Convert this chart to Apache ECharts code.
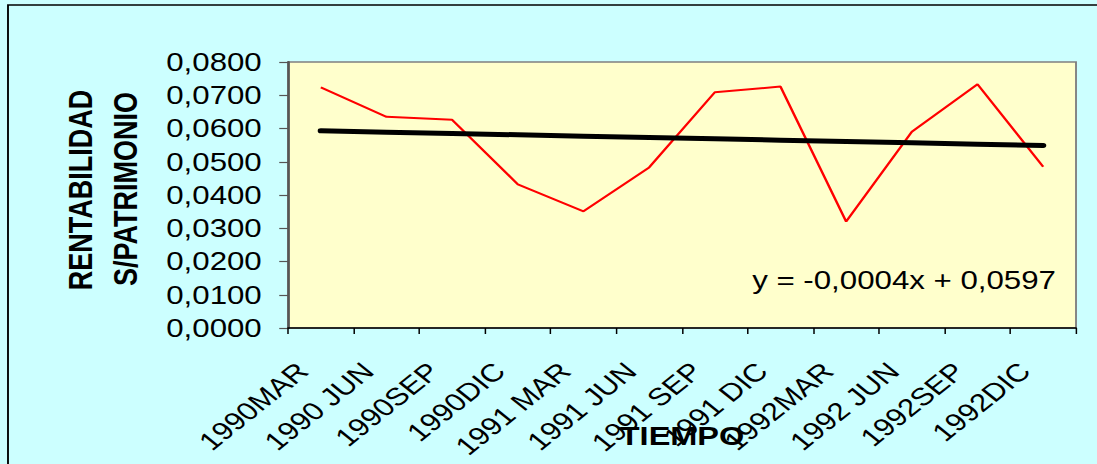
<!DOCTYPE html>
<html>
<head>
<meta charset="utf-8">
<script src="https://cdn.jsdelivr.net/npm/echarts@6/dist/echarts.min.js"></script>
<style>
  html, body { margin: 0; padding: 0; background: #CCFFFF; overflow: hidden; }
  /* the chart is laid out on a narrower canvas and widened, giving the wide lettering */
  #wrap { position: absolute; left: 0; top: 0; width: 878px; height: 464px;
          transform: scaleX(1.24943); transform-origin: 0 0; }
  #chart { width: 878px; height: 464px; }
</style>
</head>
<body>
<div id="wrap"><div id="chart"></div></div>
<script>
// Quarterly periods
const periodos = ['1990MAR', '1990 JUN', '1990SEP', '1990DIC',
                  '1991 MAR', '1991 JUN', '1991 SEP', '1991 DIC',
                  '1992MAR', '1992 JUN', '1992SEP', '1992DIC'];

// Return on equity (rentabilidad sobre patrimonio)
const rentabilidad = [0.0724, 0.0635, 0.0626, 0.0432, 0.0351, 0.0483,
                      0.0709, 0.0726, 0.0320, 0.0590, 0.0733, 0.0485];

// Linear trend: y = slope * x + intercept, with x = 1 .. n
const trendSlope = -0.0004;
const trendIntercept = 0.0597;

// Value axis range
const yMin = 0;
const yMax = 0.08;
const yStep = 0.01;

const ejeY = ['RENTABILIDAD', 'S/PATRIMONIO'];
const ejeX = 'TIEMPO';

const fmt = (v, d) => v.toFixed(d).replace('.', ',');
const ecuacion = 'y = ' + (trendSlope < 0 ? '-' : '') + fmt(Math.abs(trendSlope), 4) +
                 'x + ' + fmt(trendIntercept, 4);

const tendencia = periodos.map((p, i) => trendIntercept + trendSlope * (i + 1));

const FONT = '"Liberation Sans", Arial, sans-serif';

const chart = echarts.init(document.getElementById('chart'), null, { renderer: 'svg' });

chart.setOption({
  backgroundColor: '#CCFFFF',
  animation: false,
  grid: {
    left: 230.5, right: 16.8, top: 62, bottom: 136,
    outerBoundsMode: 'none', containLabel: false,
    show: true, backgroundColor: '#FFFFCC',
    borderColor: '#808080', borderWidth: 1.5
  },
  xAxis: {
    type: 'category',
    data: periodos,
    boundaryGap: true,
    name: ejeX,
    nameLocation: 'middle',
    nameGap: 95,
    nameMoveOverlap: false,
    nameTextStyle: { fontFamily: FONT, fontSize: 26, fontWeight: 'bold', color: '#000' },
    axisLine: { lineStyle: { color: '#000', width: 1.5 } },
    axisTick: { show: true, length: 6, lineStyle: { color: '#000', width: 1.2 } },
    axisLabel: {
      rotate: 45, interval: 0, margin: 24, padding: [0, 21, 0, 0],
      fontFamily: FONT, fontSize: 25, color: '#000'
    },
    splitLine: { show: false }
  },
  yAxis: {
    type: 'value',
    min: yMin, max: yMax, interval: yStep,
    axisLine: { show: true, lineStyle: { color: '#555', width: 2 } },
    axisTick: { show: true, length: 7, lineStyle: { color: '#555', width: 1.2 } },
    axisLabel: {
      margin: 21, fontFamily: FONT, fontSize: 25, color: '#000',
      formatter: (v) => fmt(v, 4)
    },
    splitLine: { show: false }
  },
  series: [
    {
      name: 'Rentabilidad',
      type: 'line',
      data: rentabilidad,
      symbol: 'none',
      lineStyle: { color: '#FF0000', width: 2 },
      z: 2
    },
    {
      name: 'Tendencia',
      type: 'line',
      data: tendencia,
      symbol: 'none',
      lineStyle: { color: '#000', width: 5, cap: 'round' },
      z: 3
    }
  ],
  graphic: [
    {
      type: 'rect',
      shape: { x: 6.4, y: 5, width: 1000, height: 1000 },
      style: { fill: 'none', stroke: '#000', lineWidth: 1.5 },
      silent: true, z: 100
    },
    {
      type: 'text', x: 63.6, y: 190, rotation: Math.PI / 2,
      style: { text: ejeY[0], fontFamily: FONT, fontSize: 27, fontWeight: 'bold',
               fill: '#000', textAlign: 'center', textVerticalAlign: 'middle' }
    },
    {
      type: 'text', x: 99.6, y: 189, rotation: Math.PI / 2,
      style: { text: ejeY[1], fontFamily: FONT, fontSize: 27, fontWeight: 'bold',
               fill: '#000', textAlign: 'center', textVerticalAlign: 'middle' }
    },
    {
      type: 'text', x: 602, y: 280,
      style: { text: ecuacion, fontFamily: FONT, fontSize: 25,
               fill: '#000', textAlign: 'left', textVerticalAlign: 'middle' }
    }
  ]
});
</script>
</body>
</html>
